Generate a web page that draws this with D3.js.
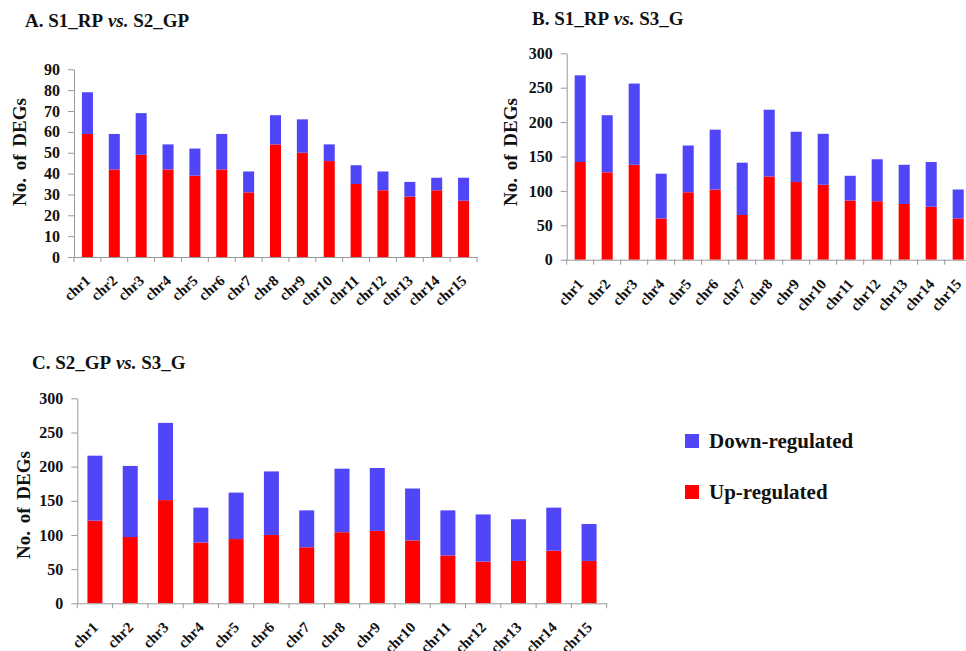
<!DOCTYPE html>
<html>
<head>
<meta charset="utf-8">
<script src="https://cdn.jsdelivr.net/npm/d3@7"></script>
<style>
  html, body { margin: 0; padding: 0; background: #fff; }
  svg { display: block; }
  text { font-family: "Liberation Serif", "Times New Roman", serif; font-weight: bold; fill: #111; }
</style>
</head>
<body>
<svg id="chart" width="966" height="651"></svg>
<script>
const categories = ["chr1","chr2","chr3","chr4","chr5","chr6","chr7","chr8","chr9","chr10","chr11","chr12","chr13","chr14","chr15"];

const upA   = [59,42,49,42,39,42,31,54,50,46,35,32,29,32,27];
const downA = [20,17,20,12,13,17,10,14,16,8,9,9,7,6,11];
const ticksA = [0,10,20,30,40,50,60,70,80,90];

const upB   = [142,127,138,60,98,102,65,121,113,109,86,85,81,77,60];
const downB = [126,83,118,65,68,87,76,97,73,74,36,61,57,65,42];
const ticksB = [0,50,100,150,200,250,300];

const upC   = [121,97,151,89,94,100,82,104,106,92,70,61,62,77,62];
const downC = [95,104,113,51,68,93,54,93,92,76,66,69,61,63,54];
const ticksC = [0,50,100,150,200,250,300];

const seriesNames = ["Up-regulated","Down-regulated"];
const colors = {"Up-regulated": "#ff0000", "Down-regulated": "#5046f8"};

const svg = d3.select("#chart");

function panel(cfg) {
  const g = svg.append("g");
  const x = d3.scaleBand().domain(categories).range([cfg.x0, cfg.x1])
    .paddingInner(cfg.pad).paddingOuter(cfg.pad / 2);
  const y = d3.scaleLinear().domain([0, cfg.max]).range([cfg.y0, cfg.yTop]);

  const rows = categories.map((c, i) => ({cat: c, "Up-regulated": cfg.up[i], "Down-regulated": cfg.down[i]}));
  const stacked = d3.stack().keys(seriesNames)(rows);

  g.selectAll("g.series").data(stacked).join("g")
    .attr("fill", d => colors[d.key])
    .selectAll("rect").data(d => d).join("rect")
    .attr("x", d => x(d.data.cat))
    .attr("width", x.bandwidth())
    .attr("y", d => y(d[1]))
    .attr("height", d => y(d[0]) - y(d[1]));

  // y axis
  const ya = g.append("g").attr("transform", `translate(${cfg.x0},0)`)
    .call(d3.axisLeft(y).tickValues(cfg.ticks).tickSize(6).tickPadding(cfg.tickPad).tickSizeOuter(0));
  ya.select(".domain").attr("stroke", "#999");
  ya.selectAll(".tick line").attr("stroke", "#999");
  ya.selectAll(".tick text").style("font-size", cfg.tickFont).attr("fill", "#111")
    .style("font-family", "'Liberation Serif', serif").style("font-weight", "bold");

  // x axis
  const xa = g.append("g").attr("transform", `translate(0,${cfg.y0})`)
    .call(d3.axisBottom(x).tickSize(0).tickPadding(0).tickSizeOuter(0));
  xa.select(".domain").attr("stroke", "#999");
  const step = x.step();
  const bounds = d3.range(categories.length + 1).map(i => cfg.x0 + i * step);
  xa.selectAll("line.bnd").data(bounds).join("line").attr("class", "bnd")
    .attr("x1", d => d).attr("x2", d => d).attr("y1", 0).attr("y2", 5)
    .attr("stroke", "#999");
  xa.selectAll(".tick text")
    .style("font-size", "15px").attr("fill", "#111")
    .style("font-family", "'Liberation Serif', serif").style("font-weight", "bold")
    .attr("text-anchor", "end")
    .attr("dy", null)
    .attr("transform", `translate(4,25) rotate(${cfg.rot})`);

  // y title
  g.append("text")
    .attr("transform", `translate(${cfg.ytx},${cfg.yty}) rotate(-90)`)
    .attr("text-anchor", "middle")
    .style("font-size", "19px").style("word-spacing", "3px")
    .text("No. of DEGs");

  // panel title
  const t = g.append("text").attr("x", cfg.tx).attr("y", cfg.ty).style("font-size", "19px");
  t.append("tspan").text(cfg.t1);
  t.append("tspan").style("font-style", "italic").text(" vs.");
  t.append("tspan").text(" " + cfg.t2);
}

panel({x0: 74, x1: 477, y0: 257, yTop: 69.3, max: 90, pad: 0.59, up: upA, down: downA, ticks: ticksA,
       tickFont: "16px", tickPad: 8, rot: -42, ytx: 26, yty: 152, tx: 25, ty: 27, t1: "A. S1_RP", t2: "S2_GP"});
panel({x0: 566.7, x1: 971.7, y0: 259.7, yTop: 53.3, max: 300, pad: 0.59, up: upB, down: downB, ticks: ticksB,
       tickFont: "16px", tickPad: 8, rot: -48, ytx: 517, yty: 152, tx: 532, ty: 25, t1: "B.  S1_RP", t2: "S3_G"});
panel({x0: 77.3, x1: 606.7, y0: 603.3, yTop: 398.3, max: 300, pad: 0.575, up: upC, down: downC, ticks: ticksC,
       tickFont: "16px", tickPad: 8, rot: -45, ytx: 30, yty: 505, tx: 32, ty: 369, t1: "C.  S2_GP", t2: "S3_G"});

// legend
const legendItems = ["Down-regulated", "Up-regulated"];
const lg = svg.append("g").attr("transform", "translate(685,434)");
const li = lg.selectAll("g").data(legendItems).join("g")
  .attr("transform", (d, i) => `translate(0,${i * 51})`);
li.append("rect").attr("width", 14).attr("height", 14).attr("fill", d => colors[d]);
li.append("text").attr("x", 24).attr("y", 14).style("font-size", "21px").text(d => d);
</script>
</body>
</html>
